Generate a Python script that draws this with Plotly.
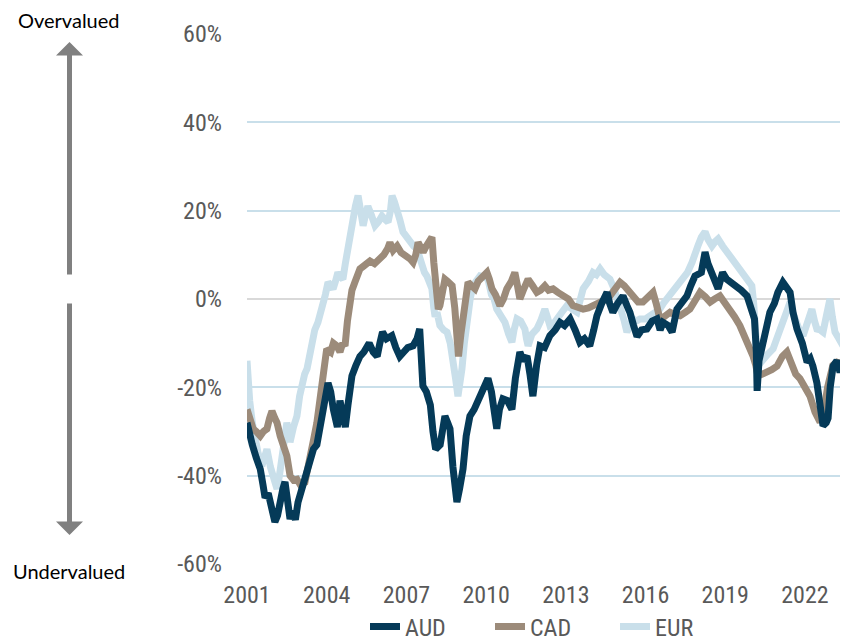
import plotly.graph_objects as go

# ---------------- data ----------------
aud_years = [2001.00, 2001.08, 2001.20, 2001.35, 2001.50, 2001.60, 2001.68, 2001.80, 2001.92, 2002.05,
             2002.15, 2002.25, 2002.35, 2002.43, 2002.52, 2002.62, 2002.72, 2002.82, 2002.92, 2003.05,
             2003.20, 2003.35, 2003.50, 2003.63, 2003.75, 2003.90, 2004.05, 2004.15, 2004.25, 2004.40,
             2004.50, 2004.60, 2004.70, 2004.80, 2004.95, 2005.10, 2005.25, 2005.40, 2005.60, 2005.75,
             2005.90, 2006.00, 2006.10, 2006.25, 2006.45, 2006.60, 2006.75, 2006.90, 2007.05, 2007.25,
             2007.40, 2007.50, 2007.58, 2007.62, 2007.75, 2007.90, 2008.00, 2008.10, 2008.27, 2008.45,
             2008.55, 2008.64, 2008.75, 2008.83, 2008.90, 2009.00, 2009.13, 2009.25, 2009.39, 2009.55,
             2009.77, 2009.90, 2010.07, 2010.20, 2010.40, 2010.50, 2010.63, 2010.80, 2010.97, 2011.10,
             2011.27, 2011.40, 2011.54, 2011.65, 2011.76, 2011.90, 2012.03, 2012.20, 2012.40, 2012.60,
             2012.78, 2012.95, 2013.16, 2013.35, 2013.53, 2013.70, 2013.90, 2014.05, 2014.17, 2014.35,
             2014.55, 2014.65, 2014.77, 2014.95, 2015.15, 2015.30, 2015.41, 2015.55, 2015.68, 2015.85,
             2016.05, 2016.25, 2016.43, 2016.55, 2016.66, 2016.85, 2017.00, 2017.18, 2017.35, 2017.56,
             2017.70, 2017.86, 2018.10, 2018.24, 2018.35, 2018.50, 2018.62, 2018.73, 2018.90, 2019.05,
             2019.20, 2019.44, 2019.60, 2019.82, 2019.95, 2020.10, 2020.17, 2020.20, 2020.27, 2020.38,
             2020.55, 2020.68, 2020.85, 2020.98, 2021.17, 2021.30, 2021.44, 2021.55, 2021.70, 2021.90,
             2022.08, 2022.20, 2022.30, 2022.45, 2022.57, 2022.68, 2022.80, 2022.87, 2022.95, 2023.06,
             2023.20, 2023.32, 2023.45, 2023.62]
aud_values = [-28, -31, -33, -36, -38.5, -42, -45, -44, -48, -50.5,
              -49, -45, -43, -41.4, -46, -49.8, -48, -50, -46, -43,
              -40, -37, -34, -33, -28, -24, -19, -21, -25, -29,
              -23, -26, -29, -24, -17.4, -15, -13, -12, -10, -12,
              -13, -10, -7.5, -9, -8.3, -11, -13, -12, -11, -10.6,
              -9, -6.8, -13, -19.7, -21, -24, -30, -34, -33, -26.5,
              -28, -29.4, -38, -44.5, -46, -43, -38.5, -31, -26.5, -25,
              -22, -20, -18, -21, -29.4, -25, -22.6, -23, -25, -18,
              -12, -14, -12.9, -17, -22, -15, -10.6, -11, -8.3, -7,
              -5.3, -6, -4.5, -7, -9.8, -9, -10.6, -7, -3.8, -1,
              1.5, -1, -3, -1, 0.7, -1.5, -3, -6, -8.5, -7,
              -6.8, -5, -4.5, -7, -5.3, -6, -7.5, -2.3, -1, 0.7,
              3, 5.2, 6, 10.6, 8, 5.2, 4, 2.3, 6, 4.5,
              3.8, 3, 2, 0.7, -2, -4.5, -12, -20.8, -14, -10.6,
              -6, -3, -1, 1.5, 3.8, 2.5, 1.5, -3, -6.8, -10,
              -14.3, -13.5, -15.2, -19, -24, -28.7, -28, -27, -20, -15.2,
              -14, -16.6, -14, -12]

cad_years = [2001.00, 2001.10, 2001.23, 2001.35, 2001.50, 2001.62, 2001.75, 2001.85, 2001.94, 2002.05,
             2002.13, 2002.25, 2002.38, 2002.50, 2002.62, 2002.75, 2002.88, 2003.00, 2003.18, 2003.28,
             2003.37, 2003.50, 2003.63, 2003.72, 2003.82, 2003.92, 2004.00, 2004.15, 2004.25, 2004.38,
             2004.50, 2004.60, 2004.69, 2004.78, 2004.88, 2004.95, 2005.06, 2005.15, 2005.25, 2005.40,
             2005.50, 2005.63, 2005.80, 2006.00, 2006.15, 2006.30, 2006.38, 2006.50, 2006.65, 2006.80,
             2007.02, 2007.15, 2007.25, 2007.35, 2007.44, 2007.55, 2007.63, 2007.75, 2007.89, 2007.96,
             2008.03, 2008.10, 2008.20, 2008.26, 2008.35, 2008.45, 2008.55, 2008.72, 2008.82, 2008.90,
             2008.96, 2009.05, 2009.13, 2009.22, 2009.32, 2009.45, 2009.58, 2009.70, 2009.85, 2010.03,
             2010.12, 2010.22, 2010.35, 2010.52, 2010.65, 2010.78, 2010.95, 2011.08, 2011.18, 2011.27,
             2011.40, 2011.58, 2011.75, 2011.91, 2012.05, 2012.21, 2012.35, 2012.52, 2012.70, 2012.89,
             2013.10, 2013.27, 2013.45, 2013.65, 2013.85, 2014.02, 2014.20, 2014.40, 2014.55, 2014.66,
             2014.85, 2015.04, 2015.20, 2015.41, 2015.55, 2015.72, 2015.90, 2016.10, 2016.28, 2016.40,
             2016.54, 2016.70, 2016.92, 2017.10, 2017.30, 2017.50, 2017.67, 2017.85, 2018.05, 2018.25,
             2018.43, 2018.60, 2018.80, 2019.00, 2019.18, 2019.35, 2019.55, 2019.70, 2019.82, 2019.95,
             2020.05, 2020.15, 2020.23, 2020.40, 2020.57, 2020.75, 2020.95, 2021.15, 2021.32, 2021.42,
             2021.51, 2021.65, 2021.81, 2022.00, 2022.19, 2022.38, 2022.50, 2022.57, 2022.65, 2022.75,
             2022.85, 2022.94, 2023.05, 2023.20, 2023.32, 2023.43, 2023.55, 2023.62]
cad_values = [-25, -27, -29.4, -30, -31, -30, -29.4, -27, -25.4, -27,
              -28, -31, -33, -35.5, -40, -41, -40.8, -42, -41.5, -39,
              -35.5, -32, -28, -24, -20.4, -15, -11.3, -12, -10, -10.6,
              -12, -10, -10.6, -5, 0, 2, 3.8, 5, 6.8, 7.5,
              8, 8.6, 8, 9, 10, 11.5, 12.8, 11, 12, 10.5,
              9.8, 9, 8.3, 10, 12.8, 11, 10.6, 12, 13.6, 14,
              8.3, 4.5, -2.3, -1.5, 2, 4.5, 4, 3, -2, -6.8,
              -13, -8, -4.5, 0, 3.8, 3, 2.3, 4, 5, 6,
              4.5, 2.3, 1, -1.5, 0, 2.3, 4, 6, 3, 0,
              2, 4.5, 3, 1.5, 2, 3, 2, 2.3, 1.5, 0.7,
              0, -1.5, -2, -2.3, -2, -1.5, -1, -0.7, 0, 0.7,
              2, 3.8, 3, 1.5, 0.5, -0.7, -0.7, 0.5, 1.5, -1,
              -4.5, -4, -3, -3.5, -3.8, -3, -2.3, -0.5, 1.5, 0.5,
              -0.7, 0, 0.7, -1, -2.3, -4, -6, -8, -9.8, -11,
              -13, -15, -17.4, -17, -16.6, -16, -15.2, -13, -12, -13.5,
              -15.2, -17, -18, -20, -22, -25.6, -27, -27.9, -26, -24,
              -20, -17.4, -15, -14.3, -14.5, -15.2, -16.5, -16]

eur_years = [2001.00, 2001.05, 2001.10, 2001.20, 2001.30, 2001.42, 2001.56, 2001.65, 2001.75, 2001.88,
             2001.98, 2002.05, 2002.13, 2002.22, 2002.32, 2002.42, 2002.50, 2002.56, 2002.62, 2002.75,
             2002.88, 2002.98, 2003.07, 2003.17, 2003.26, 2003.36, 2003.45, 2003.55, 2003.67, 2003.76,
             2003.86, 2003.95, 2004.05, 2004.15, 2004.24, 2004.33, 2004.42, 2004.52, 2004.61, 2004.70,
             2004.80, 2004.90, 2004.99, 2005.08, 2005.18, 2005.28, 2005.37, 2005.46, 2005.55, 2005.68,
             2005.82, 2005.95, 2006.08, 2006.20, 2006.31, 2006.40, 2006.46, 2006.55, 2006.65, 2006.75,
             2006.87, 2007.00, 2007.13, 2007.27, 2007.40, 2007.50, 2007.59, 2007.68, 2007.77, 2007.88,
             2007.96, 2008.03, 2008.08, 2008.15, 2008.26, 2008.40, 2008.53, 2008.65, 2008.75, 2008.85,
             2008.94, 2009.02, 2009.09, 2009.18, 2009.28, 2009.40, 2009.50, 2009.62, 2009.77, 2009.92,
             2010.07, 2010.20, 2010.30, 2010.40, 2010.55, 2010.71, 2010.85, 2010.97, 2011.05, 2011.16,
             2011.30, 2011.46, 2011.52, 2011.58, 2011.72, 2011.91, 2012.05, 2012.21, 2012.30, 2012.40,
             2012.55, 2012.70, 2012.85, 2013.04, 2013.20, 2013.42, 2013.55, 2013.65, 2013.85, 2014.02,
             2014.15, 2014.29, 2014.45, 2014.66, 2014.80, 2014.96, 2015.10, 2015.20, 2015.30, 2015.41,
             2015.53, 2015.65, 2015.79, 2016.00, 2016.17, 2016.35, 2016.54, 2016.67, 2016.80, 2017.03,
             2017.20, 2017.41, 2017.58, 2017.75, 2017.88, 2017.97, 2018.10, 2018.24, 2018.35, 2018.50,
             2018.62, 2018.73, 2018.90, 2019.07, 2019.25, 2019.44, 2019.60, 2019.74, 2019.88, 2020.00,
             2020.07, 2020.10, 2020.16, 2020.23, 2020.32, 2020.42, 2020.60, 2020.80, 2021.00, 2021.17,
             2021.30, 2021.44, 2021.57, 2021.70, 2021.82, 2021.93, 2022.10, 2022.26, 2022.36, 2022.45,
             2022.57, 2022.68, 2022.80, 2022.94, 2023.03, 2023.13, 2023.28, 2023.43, 2023.53, 2023.62]
eur_values = [-14, -20, -23, -28, -32.4, -35, -37.8, -36, -34, -38,
              -40, -42, -43, -40, -35.5, -31, -28, -30, -32.4, -29,
              -26.5, -22, -18.8, -17, -15.8, -12, -9, -7, -5.3, -3.5,
              -1.5, 1, 3.8, 3, 2.3, 4, 6, 5, 4.5, 8,
              11.3, 15, 19.6, 21, 23.4, 19, 16.6, 19, 21, 19,
              16.6, 17.5, 18.8, 18, 17.4, 20, 23.4, 22, 20.4, 18,
              15.2, 14, 12.8, 12, 11.3, 9, 7.5, 6, 5.2, 3.5,
              2.3, -2, -4, -3, -6, -7, -7.5, -10, -13, -18,
              -22, -19, -15.8, -10, -3.8, 0, 3, 4, 5.2, 5,
              4.5, 1, 0, -2.3, -4, -5.3, -8, -9.8, -7, -4.5,
              -5, -6.8, -9, -10.6, -8, -6.8, -5, -2.3, -4, -6,
              -5.5, -4.5, -3, -1.5, -2, -3, 0, 2.3, 4, 6,
              5.5, 6.8, 5.5, 4.5, 2.5, 0, -3, -5, -7.5, -6,
              -4.5, -5, -4.5, -4.5, -3.8, -3, -2.3, -1, 0, 1.5,
              2.5, 4.5, 6, 8.3, 10, 12, 14, 15.2, 13.5, 12,
              13, 13.6, 12, 10.6, 9, 7.5, 6, 5.2, 4, 3,
              -1, -4.5, -10, -15.2, -14.5, -13.6, -12.5, -11.3, -8, -6,
              -3, -0.7, -3.5, -6, -7.5, -8.3, -5, -2.3, -5, -6.8,
              -7, -7.5, -4, 0, -4, -7.5, -9, -10.6, -9, -7]

x_tick_years = [2001, 2004, 2007, 2010, 2013, 2016, 2019, 2022]
y_tick_values = [-60, -40, -20, 0, 20, 40, 60]

# ---------------- styling ----------------
AUD_COLOR = "#053a58"
CAD_COLOR = "#9c8b7a"
EUR_COLOR = "#c9dfea"
GRID_COLOR = "#c9dfea"
TEXT_GREY = "#595959"
FONT_COND = "Roboto Condensed, Liberation Sans Narrow, DejaVu Sans Condensed, Roboto, sans-serif"
LINE_W = 7

# the page body has an 8px margin: figure is placed at (8,8)
PAGE_OFF = 8
FIG_W, FIG_H = 848 - PAGE_OFF, 644 - PAGE_OFF
PLOT_L, PLOT_T, PLOT_W, PLOT_H = 247, 34, 601, 530  # absolute page pixels


def px_to_paper_x(px):
    return (px - PLOT_L) / PLOT_W


def px_to_paper_y(py):
    return (PLOT_T + PLOT_H - py) / PLOT_H


fig = go.Figure()
# drawn bottom-to-top: EUR, CAD, AUD (legend ordered AUD, CAD, EUR)
fig.add_trace(go.Scatter(x=eur_years, y=eur_values, name="EUR", mode="lines",
                         line=dict(color=EUR_COLOR, width=LINE_W), legendrank=3))
fig.add_trace(go.Scatter(x=cad_years, y=cad_values, name="CAD", mode="lines",
                         line=dict(color=CAD_COLOR, width=LINE_W), legendrank=2))
fig.add_trace(go.Scatter(x=aud_years, y=aud_values, name="AUD", mode="lines",
                         line=dict(color=AUD_COLOR, width=LINE_W), legendrank=1))

fig.update_layout(
    width=FIG_W, height=FIG_H, autosize=False,
    margin=dict(l=PLOT_L - PAGE_OFF, r=0, t=PLOT_T - PAGE_OFF,
                b=FIG_H - (PLOT_T - PAGE_OFF) - PLOT_H, autoexpand=False),
    paper_bgcolor="white", plot_bgcolor="white",
    font=dict(family=FONT_COND, size=24, color=TEXT_GREY),
    showlegend=True,
    legend=dict(orientation="h", x=px_to_paper_x(365), xanchor="left",
                y=px_to_paper_y(627), yanchor="middle",
                font=dict(family=FONT_COND, size=24, color=TEXT_GREY),
                entrywidth=80, tracegroupgap=0, bgcolor="rgba(0,0,0,0)"),
)

fig.update_xaxes(range=[2001, 2023.62], tickvals=x_tick_years,
                 ticktext=[str(v) for v in x_tick_years],
                 showgrid=False, zeroline=False, showline=False, ticks="",
                 ticklabelstandoff=14, tickfont=dict(size=24, color=TEXT_GREY))
fig.update_yaxes(range=[-60, 60], tickvals=y_tick_values,
                 ticktext=[f"{v}%" for v in y_tick_values],
                 showgrid=True, gridcolor=GRID_COLOR, gridwidth=2,
                 zeroline=True, zerolinecolor="#d9d9d9", zerolinewidth=2,
                 showline=False, ticks="", ticklabelstandoff=24,
                 tickfont=dict(size=24, color=TEXT_GREY))

ARROW_GREY = "#808080"
arrow_x = px_to_paper_x(69.5)
fig.add_annotation(xref="paper", yref="paper", x=arrow_x, y=px_to_paper_y(42),
                   ax=0, ay=234, text="", showarrow=True, arrowhead=1, arrowsize=0.9,
                   arrowwidth=5, arrowcolor=ARROW_GREY, standoff=0)
fig.add_annotation(xref="paper", yref="paper", x=arrow_x, y=px_to_paper_y(535),
                   ax=0, ay=-233, text="", showarrow=True, arrowhead=1, arrowsize=0.9,
                   arrowwidth=5, arrowcolor=ARROW_GREY, standoff=0)
fig.add_annotation(xref="paper", yref="paper", x=px_to_paper_x(68.5), y=px_to_paper_y(20),
                   text="Overvalued", showarrow=False, xanchor="center", yanchor="middle",
                   font=dict(family="Lato, Open Sans, sans-serif", size=20, color="#000000"))
fig.add_annotation(xref="paper", yref="paper", x=px_to_paper_x(69), y=px_to_paper_y(571),
                   text="Undervalued", showarrow=False, xanchor="center", yanchor="middle",
                   font=dict(family="Lato, Open Sans, sans-serif", size=20, color="#000000"))

fig.write_html("out.html")
